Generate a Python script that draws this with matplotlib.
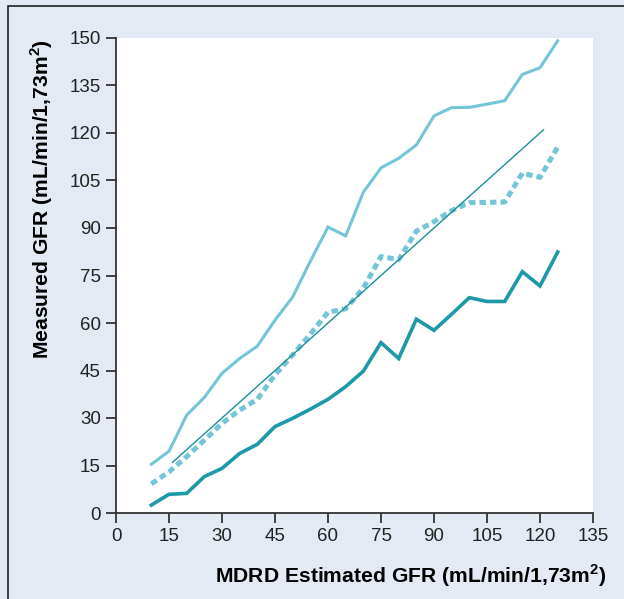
import matplotlib
matplotlib.use('Agg')
import matplotlib.pyplot as plt
from matplotlib.patches import Rectangle

# data
gfr_x = [10, 15, 20, 25, 30, 35, 40, 45, 50, 55, 60, 65, 70, 75, 80, 85,
         90, 95, 100, 105, 110, 115, 120, 125]
upper = [15.4, 19.5, 30.9, 36.5, 44.1, 48.8, 52.7, 60.9, 68.2, 79.5, 90.3, 87.5,
         101.3, 109.0, 112.0, 116.2, 125.4, 128.0, 128.1, 129.1, 130.2, 138.5, 140.6, 149.1]
median = [9.2, 13.0, 17.8, 23.0, 28.3, 32.5, 35.9, 43.6, 49.9, 56.5, 63.4, 64.5,
          71.0, 81.0, 80.0, 89.0, 92.0, 95.5, 98.0, 98.1, 98.2, 107.3, 106.0, 115.5]
lower = [2.5, 5.9, 6.2, 11.5, 14.1, 18.8, 21.7, 27.3, 29.9, 32.8, 35.9, 39.9,
         44.8, 53.8, 48.8, 61.2, 57.7, 62.8, 68.0, 66.8, 66.8, 76.2, 71.7, 82.4]
identity_x = [16, 121]
identity_y = [16, 121]

xticks = list(range(0, 136, 15))
yticks = list(range(0, 151, 15))

plt.rcParams['font.family'] = ['Liberation Sans', 'DejaVu Sans']
plt.rcParams['mathtext.fontset'] = 'custom'
plt.rcParams['mathtext.rm'] = 'Liberation Sans'
plt.rcParams['mathtext.bf'] = 'Liberation Sans:bold'

bg = '#e3eaf3'
light = '#74c5d8'
teal = '#1d99a7'

fig = plt.figure(figsize=(6.24, 5.99), dpi=100, facecolor=bg)
# frame border (only top/left visible in the reference)
fig.patches.append(Rectangle((8/624, -0.05), 1.2, 1 - 6/599 + 0.05, transform=fig.transFigure,
                             fill=False, edgecolor='#222222', lw=1.2))

ax = fig.add_axes([116/624, 1 - 513/599, (593-116)/624, (513-38)/599])
ax.set_facecolor('white')

ax.plot(gfr_x, upper, color=light, lw=2.2, solid_joinstyle='miter')
ax.plot(gfr_x, median, color=light, lw=3.6, linestyle=(0, (1.3, 0.8)))
ax.plot(gfr_x, lower, color=teal, lw=2.6, solid_joinstyle='miter')
ax.plot(identity_x, identity_y, color='#1a8e9a', lw=1.0)

ax.set_xlim(0, 135)
ax.set_ylim(0, 150)
ax.set_xticks(xticks)
ax.set_yticks(yticks)
for s in ['top', 'right']:
    ax.spines[s].set_visible(False)
for s in ['left', 'bottom']:
    ax.spines[s].set_color('#333333')
    ax.spines[s].set_linewidth(1.3)
ax.tick_params(direction='out', length=7, width=1.3, color='#333333',
               labelsize=13.5, labelcolor='#222222', pad=4)

ax.set_xlabel(r'MDRD Estimated GFR (mL/min/1,73m$^\mathbf{2}$)', fontsize=15.2,
              fontweight='bold', va='center')
ax.set_ylabel(r'Measured GFR (mL/min/1,73m$^\mathbf{2}$)', fontsize=15.2,
              fontweight='bold', va='center')
ax.xaxis.set_label_coords(0.618, -0.133)
ax.yaxis.set_label_coords(-0.155, 0.66)

fig.savefig('out.png', dpi=100, facecolor=bg)
